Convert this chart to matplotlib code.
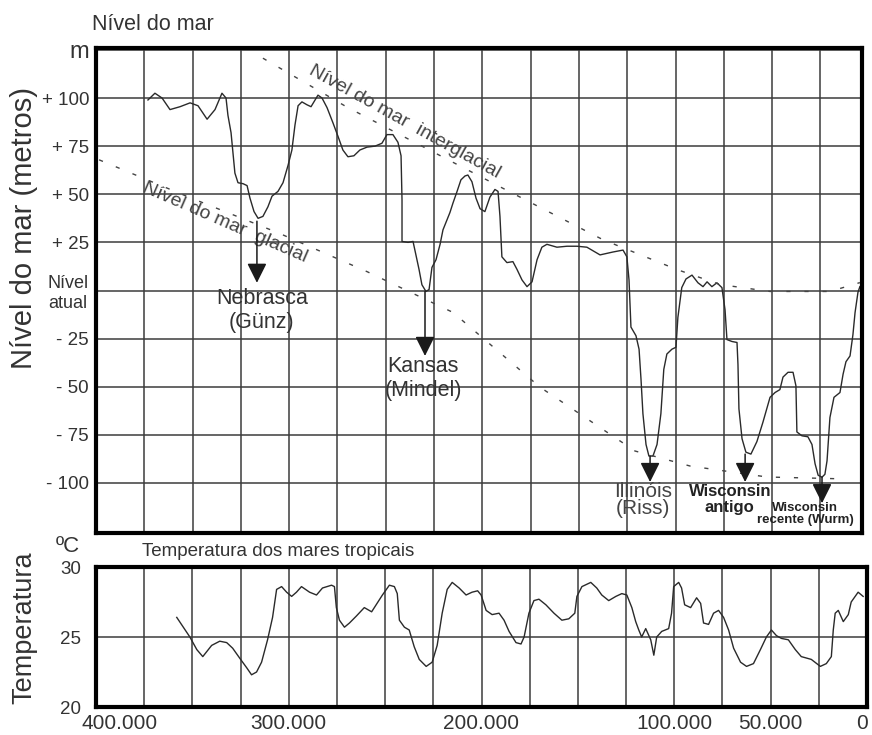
import matplotlib
matplotlib.use("Agg")
import matplotlib.pyplot as plt
from matplotlib.transforms import ScaledTranslation

plt.rcParams['font.family'] = ['Liberation Sans', 'DejaVu Sans']

# ---------------- data (thousands of years BP / metres / deg C) ----------------
sea_ka = [373.1, 369.5, 365.8, 361.7, 356.5, 351.3, 347.2, 342.5, 338.4, 336.3,
          334.8, 332.7, 331.7, 330.1, 328.1, 326.5, 323.9, 321.8, 320.3, 318.2,
          316.1, 313.6, 311.0, 308.9, 305.8, 303.2, 300.6, 298.6, 297.0, 295.4,
          293.4, 290.8, 288.7, 286.6, 285.1, 283.0, 280.4, 277.3, 274.7, 272.2,
          269.6, 266.5, 263.4, 259.7, 255.6, 252.0, 249.4, 246.3, 243.7, 242.1,
          241.6, 241.6, 238.5, 235.9, 234.4, 232.8, 231.3, 229.2, 227.6, 226.1,
          224.0, 221.9, 220.4, 218.8, 216.8, 215.2, 213.1, 211.1, 209.0, 207.5,
          205.4, 203.3, 201.2, 198.7, 196.1, 193.5, 191.9, 190.9, 189.9, 187.3,
          184.2, 182.1, 179.5, 176.9, 174.3, 171.7, 169.2, 166.6, 161.4, 156.2,
          151.0, 145.9, 139.1, 132.4, 127.2, 125.2, 124.1, 123.1, 120.5, 118.9,
          117.9, 116.9, 115.3, 113.8, 111.7, 109.6, 107.6, 106.1, 104.5, 101.9,
          99.8, 98.8, 96.8, 94.6, 91.5, 88.4, 85.8, 83.7, 81.2, 78.6,
          76.0, 74.4, 73.4, 70.8, 68.2, 67.7, 67.2, 65.6, 63.6, 61.0,
          57.9, 54.8, 51.1, 48.5, 46.0, 44.4, 41.8, 39.2, 37.7, 37.2,
          34.6, 31.5, 29.4, 27.8, 26.2, 24.2, 22.7, 21.6, 20.1, 18.0,
          14.9, 13.3, 11.8, 9.7, 8.2, 7.1, 5.6, 4.6]
sea_m = [99, 102.5, 100, 94, 95.5, 97.5, 96, 89, 94, 99,
         102.5, 100, 91, 82, 61, 56, 55.5, 54.5, 48, 41,
         37.5, 38.5, 43.5, 49, 51.5, 56, 65, 73, 86, 96,
         98, 96.5, 95.5, 99, 101.5, 100, 95, 87, 80, 73,
         69.5, 70, 73, 74.5, 75, 76.5, 81, 81, 77, 70,
         47, 25.5, 25, 25.5, 18.5, 11, 3, -0.5, 0.5, 12,
         16, 24, 31.5, 35.5, 40.5, 45.5, 51.5, 57.5, 59.5, 60,
         56.5, 48, 42.5, 41, 48.5, 52.5, 51.5, 38.5, 17.5, 14.5,
         15, 11, 5.5, 2, 4.5, 16, 22.5, 24, 22.5, 23,
         23, 22.5, 18.5, 20, 21, 17.5, 5.5, -19, -23.5, -30.5,
         -46, -64, -80, -86, -86, -80, -64, -41, -33, -30.5,
         -29.5, -14, 1.5, 6, 8, 4, 2, 4.5, 2, 4,
         1.5, -10, -25.5, -26.5, -27, -38.5, -61.5, -77, -84, -85,
         -78.5, -68.5, -55.5, -53, -51.5, -45, -42.5, -42.5, -49.5, -73.5,
         -75.5, -76, -80, -90, -96, -97, -95.5, -88.5, -66, -55.5,
         -53, -43.5, -37, -34, -23, -11.5, -1, 2]

temp_ka = [358.1, 351.3, 347.7, 344.6, 340.0, 335.8, 332.2, 329.1, 325.5, 321.8,
           319.3, 316.7, 314.1, 311.0, 308.4, 306.3, 303.7, 301.1, 298.5, 296.0,
           293.4, 289.2, 285.6, 282.5, 277.8, 276.3, 275.3, 273.7, 271.1, 268.5,
           264.9, 260.8, 257.0, 251.4, 247.8, 245.2, 243.7, 242.6, 240.0, 237.5,
           234.9, 232.3, 228.7, 225.6, 223.0, 220.4, 217.8, 215.2, 211.6, 208.0,
           204.9, 202.0, 200.2, 197.6, 194.5, 190.9, 188.3, 185.7, 182.1, 179.5,
           177.9, 175.4, 172.8, 170.2, 166.6, 162.4, 158.3, 154.7, 151.6, 150.5,
           147.9, 143.3, 140.2, 137.6, 134.0, 130.3, 127.2, 124.6, 122.0, 120.0,
           118.4, 116.9, 114.8, 112.2, 110.6, 109.1, 106.5, 102.9, 101.4, 100.3,
           97.7, 96.2, 94.6, 91.5, 88.4, 86.3, 84.8, 82.2, 79.6, 77.0,
           74.4, 71.8, 69.2, 65.6, 62.5, 58.9, 55.3, 52.2, 49.6, 47.0,
           44.4, 40.8, 37.2, 34.1, 28.9, 24.2, 21.1, 18.5, 17.5, 16.5,
           14.9, 12.3, 9.7, 8.2, 4.6, 2.0]
temp_c = [26.4, 25.0, 24.1, 23.6, 24.4, 24.7, 24.6, 24.2, 23.5, 22.8,
          22.3, 22.5, 23.2, 24.8, 26.4, 28.4, 28.6, 28.2, 27.9, 28.2,
          28.6, 28.2, 28.0, 28.5, 28.7, 28.6, 27.1, 26.2, 25.7, 26.0,
          26.5, 27.1, 26.8, 28.0, 28.7, 28.6, 28.1, 26.2, 25.7, 25.5,
          24.3, 23.4, 22.9, 23.2, 24.4, 26.7, 28.4, 28.9, 28.5, 28.0,
          28.2, 28.3, 28.0, 26.9, 26.6, 26.7, 26.2, 25.4, 24.6, 24.5,
          25.0, 26.7, 27.6, 27.7, 27.3, 26.7, 26.2, 26.3, 26.7, 27.9,
          28.6, 28.9, 28.5, 28.0, 27.6, 27.9, 28.1, 28.0, 27.1, 26.1,
          25.5, 25.0, 25.6, 24.8, 23.7, 25.0, 25.4, 25.6, 26.7, 28.6,
          28.9, 28.5, 27.3, 27.1, 27.8, 27.4, 26.0, 25.9, 26.7, 26.9,
          26.4, 25.5, 24.2, 23.2, 22.9, 23.1, 24.1, 25.0, 25.5, 25.1,
          24.9, 24.8, 24.1, 23.6, 23.4, 22.9, 23.1, 23.6, 25.5, 26.7,
          26.9, 26.1, 26.6, 27.5, 28.2, 27.9]

interglacial_ka = [313.6, 270.1, 190.9, 137.6, 99.3, 77.0, 51.1, 20.1, 4.6]
interglacial_m = [120.7, 95.3, 53.9, 26.4, 10.9, 3.1, -0.5, -0.5, 4.1]
glacial_ka = [398.4, 352.4, 305.8, 259.7, 215.2, 170.2, 121.0, 92.5, 52.7, 12.3]
glacial_m = [67.9, 48.7, 30.0, 9.8, -11.4, -50.2, -83.4, -91.2, -96.9, -97.9]

stage_names = ["Nebrasca\n(Günz)", "Kansas\n(Mindel)", "Illinóis\n(Riss)",
               "Wisconsin\nantigo", "Wisconsin\nrecente (Wurm)"]
stage_ka = [316.7, 229.7, 113.2, 64.0, 24.2]
stage_low_m = [36, -0.5, -86, -85, -97]
stage_tip_m = [4, -34, -99.5, -99.5, -110.5]

sea_yticks = [-100, -75, -50, -25, 0, 25, 50, 75, 100, 125]
sea_yticklabels = ["- 100", "- 75", "- 50", "- 25", "Nível\natual",
                   "+ 25", "+ 50", "+ 75", "+ 100", "m"]
temp_yticks = [20, 25, 30]
temp_yticklabels = ["20", "25", "30"]
x_grid = [375, 350, 325, 300, 275, 250, 225, 200, 175, 150, 125, 100, 75, 50, 25]
x_ticks = [400, 300, 200, 100, 50, 0]
x_ticklabels = ["400.000", "300.000", "200.000", "100.000", "50.000", "0"]

# ---------------- figure ----------------
W, H = 872, 735
fig = plt.figure(figsize=(W / 100, H / 100), dpi=100)
TXT = '#333333'
GRID = '#3c3c3c'


def px_axes(l, t, r, b):
    return fig.add_axes([l / W, 1 - b / H, (r - l) / W, (b - t) / H])


ax1 = px_axes(96, 48, 862, 533)
ax2 = px_axes(96, 567, 867, 707)

for ax in (ax1, ax2):
    for sp in ax.spines.values():
        sp.set_linewidth(3)
        sp.set_color('black')
    ax.set_xticks(x_grid, minor=True)
    ax.tick_params(which='both', length=0)
    ax.grid(which='both', axis='x', color=GRID, lw=1.1)
    ax.grid(which='major', axis='y', color=GRID, lw=1.1)
    ax.set_axisbelow(True)

# ---- sea level panel
ax1.set_xlim(400, 3.5)
ax1.set_ylim(-126, 126)
ax1.set_xticks([])
ax1.set_yticks(sea_yticks)
ax1.set_yticklabels(sea_yticklabels, fontsize=13.5, color=TXT)
ax1.tick_params(axis='y', pad=5)
for lab in ax1.get_yticklabels():
    if lab.get_text().startswith("Nível"):
        lab.set_multialignment('left')
        lab.set_fontsize(13)
    if lab.get_text() == "m":
        lab.set_fontsize(17)

ax1.plot(sea_ka, sea_m, color='#2a2a2a', lw=1.0)
ax1.plot(interglacial_ka, interglacial_m, color='#444444', lw=1.0, ls=(0, (3, 10)))
ax1.plot(glacial_ka, glacial_m, color='#444444', lw=1.0, ls=(0, (3, 10)))

ax1.text(240.1, 87.5, "Nível do mar  interglacial", rotation=-29,
         rotation_mode='anchor', ha='center', va='center', fontsize=14, color='#444444')
ax1.text(333.2, 35.0, "Nível do mar  glacial", rotation=-23.5,
         rotation_mode='anchor', ha='center', va='center', fontsize=14, color='#444444')

label_styles = [
    dict(offset=(3.6, -3.6), fontsize=15.5, fontweight='normal', linespacing=1.2, color=TXT),
    dict(offset=(-1.5, 0), fontsize=15.5, fontweight='normal', linespacing=1.2, color=TXT),
    dict(offset=(-5, 0), fontsize=15, fontweight='normal', linespacing=0.9, color='#444444'),
    dict(offset=(-11, -1.5), fontsize=12, fontweight='bold', linespacing=1.1, color='#222222'),
    dict(offset=(-12, 1.0), fontsize=9.5, fontweight='bold', linespacing=1.05, color='#222222'),
]
for name, ka, low, tip, st in zip(stage_names, stage_ka, stage_low_m, stage_tip_m, label_styles):
    ax1.annotate('', xy=(ka, tip), xytext=(ka, low),
                 arrowprops=dict(arrowstyle='-|>,head_length=1.2,head_width=0.6',
                                 mutation_scale=10, color='#1a1a1a', lw=1.1,
                                 shrinkA=0, shrinkB=0))
    ax1.annotate(name, xy=(ka, tip), xytext=st['offset'], textcoords='offset points',
                 ha='center', va='top', fontsize=st['fontsize'],
                 fontweight=st['fontweight'], linespacing=st['linespacing'],
                 color=st['color'], annotation_clip=False)

# ---- temperature panel
ax2.set_xlim(400, 0)
ax2.set_ylim(20, 30)
ax2.set_xticks(x_ticks)
ax2.set_xticklabels(x_ticklabels, fontsize=15, color=TXT)
ax2.tick_params(axis='x', pad=5)
xlabs = ax2.get_xticklabels()
xlabs[0].set_transform(xlabs[0].get_transform() + ScaledTranslation(0.24, 0, fig.dpi_scale_trans))
xlabs[-1].set_transform(xlabs[-1].get_transform() + ScaledTranslation(-0.05, 0, fig.dpi_scale_trans))
ax2.set_yticks(temp_yticks)
ax2.set_yticklabels(temp_yticklabels, fontsize=13.5, color=TXT)
ax2.tick_params(axis='y', pad=11)
ax2.plot(temp_ka, temp_c, color='#2a2a2a', lw=1.0)

# ---- figure texts
fig.text(92 / W, 1 - 25 / H, "Nível do mar", fontsize=15.5, ha='left', va='center', color=TXT)
fig.text(24 / W, 1 - 228 / H, "Nível do mar (metros)", rotation=90, fontsize=21,
         ha='center', va='center', color=TXT)
fig.text(24 / W, 1 - 628 / H, "Temperatura", rotation=90, fontsize=19.5,
         ha='center', va='center', color=TXT)
fig.text(68 / W, 1 - 546 / H, "ºC", fontsize=16, ha='center', va='center', color=TXT)
fig.text(142 / W, 1 - 551 / H, "Temperatura dos mares tropicais", fontsize=13.5,
         ha='left', va='center', color=TXT)

fig.savefig("out.png", dpi=100)
